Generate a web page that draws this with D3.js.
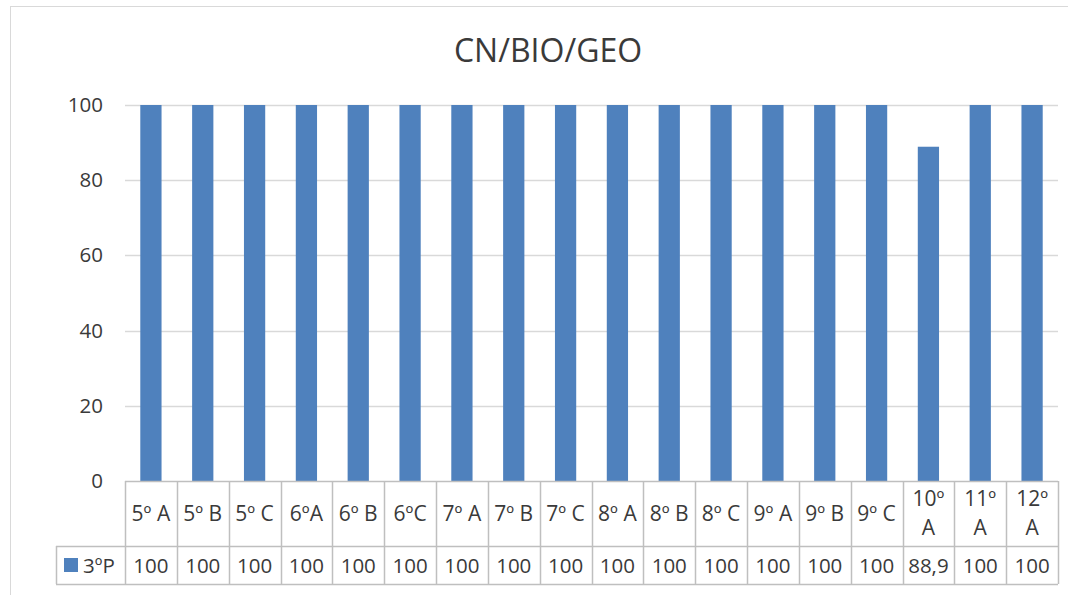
<!DOCTYPE html>
<html>
<head>
<meta charset="utf-8">
<script src="https://cdn.jsdelivr.net/npm/d3@7"></script>
<style>
  html, body { margin: 0; padding: 0; background: #fff; }
  svg { display: block; font-family: "Open Sans", "Liberation Sans", sans-serif; }
</style>
</head>
<body>
<svg id="chart" width="1068" height="595"></svg>
<script>
// Chart data
const title = "CN/BIO/GEO";
const seriesName = "3ºP";
const categories = ["5º A", "5º B", "5º C", "6ºA", "6º B", "6ºC", "7º A", "7º B", "7º C",
  "8º A", "8º B", "8º C", "9º A", "9º B", "9º C", "10º A", "11º A", "12º A"];
// category labels as wrapped in the data table (lines)
const categoryLines = [["5º A"], ["5º B"], ["5º C"], ["6ºA"], ["6º B"], ["6ºC"], ["7º A"], ["7º B"], ["7º C"],
  ["8º A"], ["8º B"], ["8º C"], ["9º A"], ["9º B"], ["9º C"], ["10º", "A"], ["11º", "A"], ["12º", "A"]];
const values = [100, 100, 100, 100, 100, 100, 100, 100, 100, 100, 100, 100, 100, 100, 100, 88.9, 100, 100];
const yTicks = [0, 20, 40, 60, 80, 100];

(function () {
const svg = d3.select("#chart");
const textColor = "#3a3a3a";
const gridColor = "#D9D9D9";
const tableColor = "#BFBFBF";
const barColor = "#4F81BD";

const plotLeft = 125, plotRight = 1058, plotTop = 105, plotBottom = 481;
const catRowBottom = 546, valRowBottom = 584, legendLeft = 56;

// outer chart frame
svg.append("rect")
  .attr("x", 10.5).attr("y", 6.5).attr("width", 1100).attr("height", 700)
  .attr("fill", "none").attr("stroke", gridColor).attr("stroke-width", 1);

// title
svg.append("text")
  .attr("x", 548).attr("y", 62)
  .attr("text-anchor", "middle")
  .attr("font-size", 32)
  .attr("fill", textColor)
  .text(title);

const x = d3.scaleBand().domain(categories).range([plotLeft, plotRight]).padding(0);
const y = d3.scaleLinear().domain([0, 100]).range([plotBottom, plotTop]);

// gridlines
svg.append("g").selectAll("line")
  .data(yTicks.filter(t => t > 0))
  .join("line")
  .attr("x1", plotLeft).attr("x2", plotRight)
  .attr("y1", d => Math.round(y(d)) + 0.5).attr("y2", d => Math.round(y(d)) + 0.5)
  .attr("stroke", gridColor).attr("stroke-width", 1.5);

// y axis labels
const yAxis = d3.axisLeft(y).tickValues(yTicks).tickSize(0).tickPadding(22);
const yg = svg.append("g").attr("transform", `translate(${plotLeft},0)`).call(yAxis);
yg.select(".domain").remove();
yg.selectAll("text")
  .attr("font-size", 20.5)
  .attr("font-family", "\"Open Sans\", \"Liberation Sans\", sans-serif")
  .attr("fill", textColor);

// bars
const barW = x.bandwidth() * 0.41;
svg.append("g").selectAll("rect")
  .data(values)
  .join("rect")
  .attr("x", (d, i) => x(categories[i]) + (x.bandwidth() - barW) / 2)
  .attr("width", barW)
  .attr("y", d => y(d))
  .attr("height", d => y(0) - y(d))
  .attr("fill", barColor);

// data table
const tg = svg.append("g");
tg.append("line").attr("x1", plotLeft).attr("x2", plotRight).attr("y1", plotBottom + 0.5).attr("y2", plotBottom + 0.5)
  .attr("stroke", tableColor).attr("stroke-width", 1.5);
[catRowBottom, valRowBottom].forEach(yy => {
  tg.append("line").attr("x1", legendLeft).attr("x2", plotRight).attr("y1", yy + 0.5).attr("y2", yy + 0.5)
    .attr("stroke", tableColor).attr("stroke-width", 1.5);
});
const bounds = categories.map(c => x(c)).concat([plotRight]);
tg.selectAll("line.v")
  .data(bounds)
  .join("line")
  .attr("class", "v")
  .attr("x1", d => Math.round(d) + 0.5).attr("x2", d => Math.round(d) + 0.5)
  .attr("y1", plotBottom).attr("y2", valRowBottom)
  .attr("stroke", tableColor).attr("stroke-width", 1.5);
tg.append("line").attr("x1", legendLeft + 0.5).attr("x2", legendLeft + 0.5)
  .attr("y1", catRowBottom).attr("y2", valRowBottom)
  .attr("stroke", tableColor).attr("stroke-width", 1.5);

// category labels
const catMid = (plotBottom + catRowBottom) / 2;
categoryLines.forEach((lines, i) => {
  const cx = x(categories[i]) + x.bandwidth() / 2;
  const t = tg.append("text")
    .attr("x", cx)
    .attr("text-anchor", "middle")
    .attr("font-size", 21)
    .attr("fill", textColor);
  const lh = 29;
  const startY = catMid - (lines.length - 1) * lh / 2;
  lines.forEach((ln, k) => {
    t.append("tspan").attr("x", cx).attr("y", startY + k * lh).attr("dy", "0.35em").text(ln);
  });
});

// value labels
const valMid = (catRowBottom + valRowBottom) / 2;
tg.selectAll("text.val")
  .data(values)
  .join("text")
  .attr("class", "val")
  .attr("x", (d, i) => x(categories[i]) + x.bandwidth() / 2)
  .attr("y", valMid + 1)
  .attr("dy", "0.35em")
  .attr("text-anchor", "middle")
  .attr("font-size", 20.5)
  .attr("fill", textColor)
  .text(d => String(d).replace(".", ","));

// legend key in the table
tg.append("rect").attr("x", 64).attr("y", valMid - 7).attr("width", 14).attr("height", 14).attr("fill", barColor);
tg.append("text")
  .attr("x", 83).attr("y", valMid + 1).attr("dy", "0.35em")
  .attr("font-size", 20.5).attr("fill", textColor)
  .text(seriesName);
})();
</script>
</body>
</html>
